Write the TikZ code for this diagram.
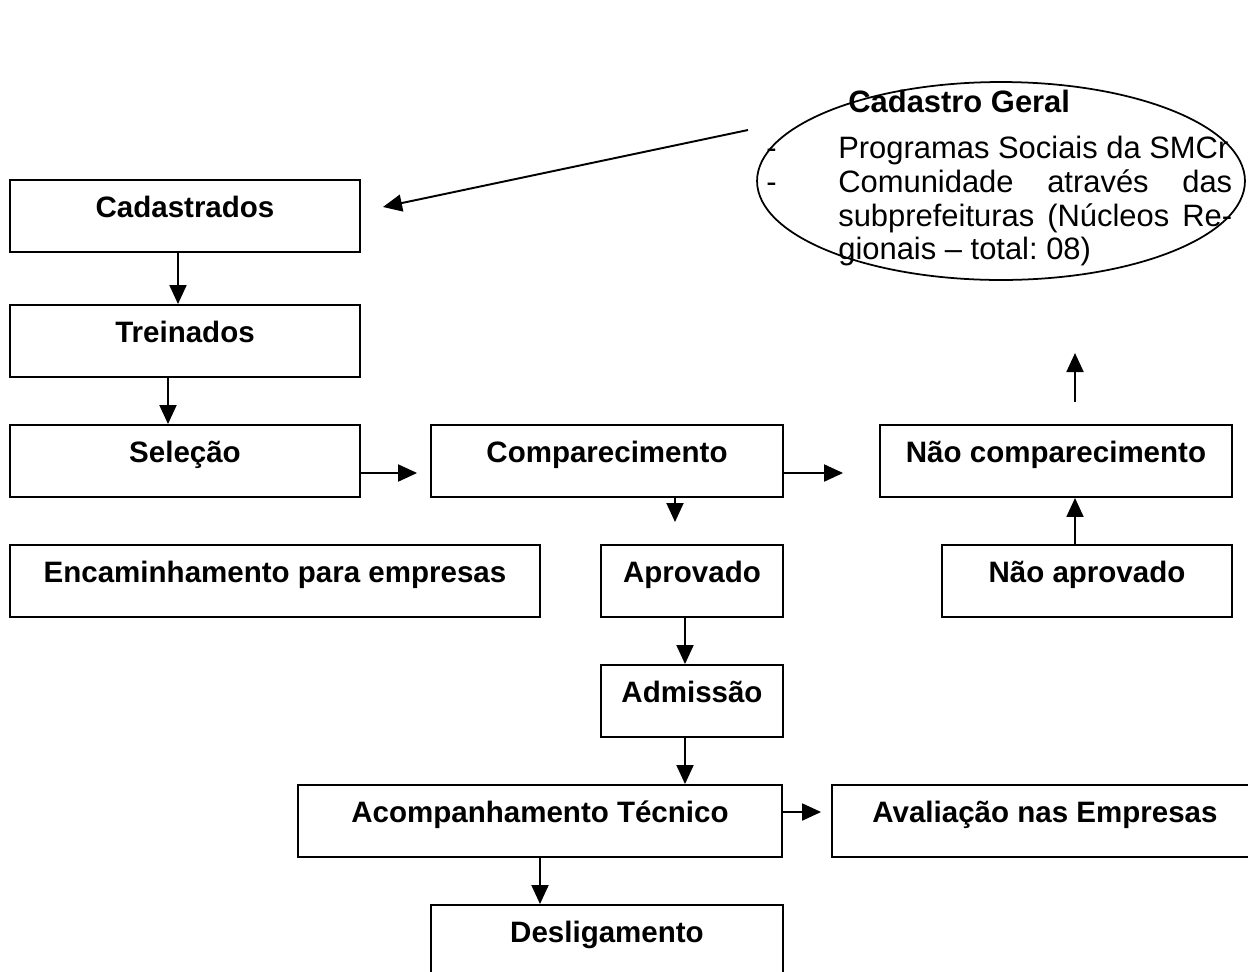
\documentclass[tikz,border=0pt]{standalone}
\usepackage{fontspec}
\setmainfont{Liberation Sans}
\usepackage{tikz}
\usetikzlibrary{arrows.meta,shapes.geometric}
\frenchspacing

\begin{document}
\begin{tikzpicture}[x=0.02cm,y=-0.02cm,
  caixa/.style={draw, line width=1.1pt, inner sep=0pt, text height=0.74cm, text depth=0.70cm,
    font=\fontsize{16.8}{20}\selectfont\bfseries},
  seta/.style={line width=1.1pt, -{Triangle[length=0.38cm,width=0.34cm]}},
  texto/.style={anchor=base west, inner sep=0pt, font=\fontsize{17.6}{20}\selectfont}]
\useasboundingbox (0,0) rectangle (1248,971);
\clip (0,0) rectangle (1248,971);

\node[draw, ellipse, line width=1pt, minimum width=9.76cm, minimum height=3.96cm] (geral) at (1001,181) {};
\node[texto, font=\fontsize{17.6}{20}\selectfont\bfseries] (titulo) at (848,112) {Cadastro Geral};
\node[texto] (linha1) at (766,158) {\makebox[1.44cm][l]{-}Programas Sociais da SMCr};
\node[texto] (linha2) at (766,192) {\makebox[1.44cm][l]{-}\makebox[7.88cm][s]{Comunidade através das}};
\node[texto] (linha3) at (766,226) {\hspace*{1.44cm}\makebox[7.88cm][s]{subprefeituras (Núcleos Re-}};
\node[texto] (linha4) at (766,259) {\hspace*{1.44cm}gionais -- total: 08)};

\node[caixa, minimum width=7cm] (cad) at (185,216) {Cadastrados};
\node[caixa, minimum width=7cm] (trein) at (185,341) {Treinados};
\node[caixa, minimum width=7cm] (selecao) at (185,461) {Seleção};
\node[caixa, minimum width=7.04cm] (compar) at (607,461) {Comparecimento};
\node[caixa, minimum width=7.04cm] (naocomp) at (1056,461) {Não comparecimento};
\node[caixa, minimum width=10.6cm] (encam) at (275,581) {Encaminhamento para empresas};
\node[caixa, minimum width=3.64cm] (aprov) at (692,581) {Aprovado};
\node[caixa, minimum width=5.8cm] (naoaprov) at (1087,581) {Não aprovado};
\node[caixa, minimum width=3.64cm] (admis) at (692,701) {Admissão};
\node[caixa, minimum width=9.7cm] (acomp) at (540,821) {Acompanhamento Técnico};
\node[caixa, minimum width=8.52cm] (aval) at (1045,821) {Avaliação nas Empresas};
\node[caixa, minimum width=7.04cm] (deslig) at (607,941) {Desligamento};

\coordinate (geral-saida) at (748,130);
\coordinate (compar-fim) at (675,522);
\coordinate (sobe-ini) at (1075,402);
\coordinate (sobe-fim) at (1075,353);

\draw[seta] (geral-saida) -- (383,207);
\draw[seta] ([xshift=-0.14cm]cad.south) -- ([xshift=-0.14cm]trein.north);
\draw[seta] ([xshift=-0.34cm]trein.south) -- ([xshift=-0.34cm]selecao.north);
\draw[seta] ([yshift=-0.24cm]selecao.east) -- ([xshift=-0.26cm,yshift=-0.24cm]compar.west);
\draw[seta] ([yshift=-0.24cm]compar.east) -- ([xshift=-0.72cm,yshift=-0.24cm]naocomp.west);
\draw[seta] (compar.south -| compar-fim) -- (compar-fim);
\draw[seta] ([xshift=-0.14cm]aprov.south) -- ([xshift=-0.14cm]admis.north);
\draw[seta] ([xshift=-0.14cm]admis.south) -- ([xshift=-0.14cm]admis.south |- acomp.north);
\draw[seta] ([yshift=0.18cm]acomp.east) -- ([xshift=-0.2cm,yshift=0.18cm]aval.west);
\draw[seta] (acomp.south) -- (acomp.south |- deslig.north);
\draw[seta] ([xshift=-0.24cm]naoaprov.north) -- ([xshift=-0.24cm]naoaprov.north |- naocomp.south);
\draw[seta] (sobe-ini) -- (sobe-fim);
\end{tikzpicture}
\end{document}
